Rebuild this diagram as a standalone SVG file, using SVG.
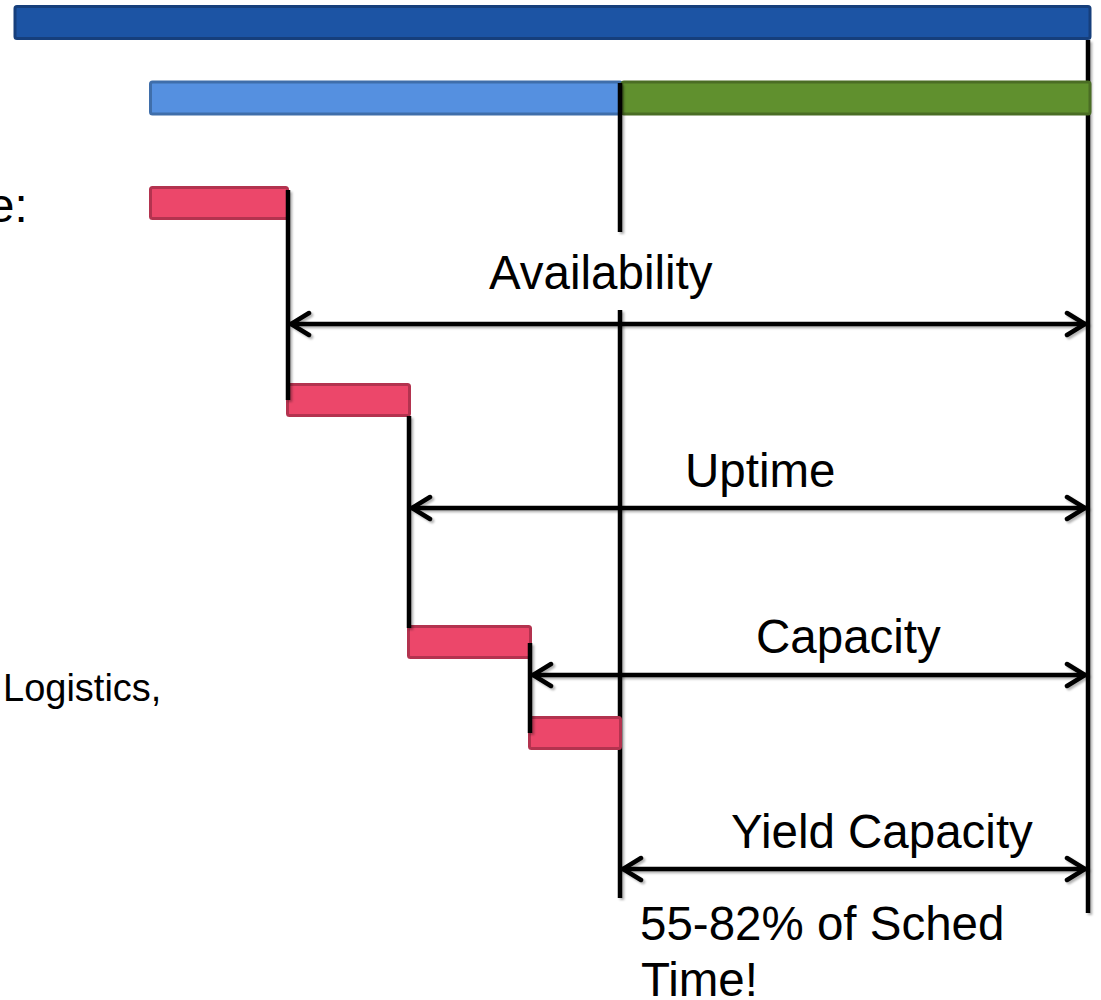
<svg xmlns="http://www.w3.org/2000/svg" width="1101" height="1000" viewBox="0 0 1101 1000">
  <style>
    .lbl { font-family: "Liberation Sans", Arial, sans-serif; font-size: 47.5px; fill: #000; }
    .small { font-size: 38px; }
    .bar { stroke-width: 3; }
    .total { fill: #1C54A4; stroke: #163F7C; }
    .sched { fill: #5590E0; stroke: #3F6EAA; }
    .loss { fill: #60902E; stroke: #4A6D24; }
    .down { fill: #EC476A; stroke: #B3334F; }
    .rule { stroke: #000; stroke-width: 4.5; fill: none; }
    .span { stroke: #000; stroke-width: 4.5; fill: none; marker-start: url(#chev); marker-end: url(#chev); }
  </style>
  <defs>
    <!-- soft drop shadow; user-space region so zero-width vertical lines still render -->
    <filter id="shadow" filterUnits="userSpaceOnUse" x="0" y="0" width="1101" height="1000">
      <feDropShadow dx="2" dy="2" stdDeviation="1.2" flood-color="#000" flood-opacity="0.3"/>
    </filter>
    <marker id="chev" markerUnits="userSpaceOnUse" viewBox="-26 -14 30 28" markerWidth="30" markerHeight="28" refX="0" refY="0" orient="auto-start-reverse">
      <path d="M-19,-11 L-1,0 L-19,11" fill="none" stroke="#000" stroke-width="4.5" stroke-linecap="round" stroke-linejoin="miter"/>
    </marker>
  </defs>

  <rect width="1101" height="1000" fill="#fff"/>

  <!-- right-hand boundary rule (sits behind the bars) -->
  <g id="rule-right" filter="url(#shadow)">
    <line class="rule" x1="1088" y1="40" x2="1088" y2="913"/>
  </g>

  <!-- time bars -->
  <g id="bar-total">
    <rect class="bar total" x="15" y="6.5" width="1075" height="32" rx="2"/>
  </g>
  <g id="bar-scheduled">
    <rect class="bar sched" x="150.5" y="82" width="471" height="32" rx="2"/>
  </g>
  <g id="bar-unscheduled">
    <rect class="bar loss" x="622" y="82" width="468" height="32" rx="2"/>
  </g>

  <!-- label box for Availability (white fill masks the rule) -->
  <g id="label-availability">
    <rect x="470" y="232" width="260" height="78" fill="#fff"/>
    <text class="lbl" x="489" y="289">Availability</text>
  </g>

  <!-- yield-capacity boundary rule -->
  <g id="rule-yield" filter="url(#shadow)">
    <line class="rule" x1="620" y1="83" x2="620" y2="232"/>
    <line class="rule" x1="620" y1="310" x2="620" y2="898"/>
  </g>

  <!-- loss steps -->
  <g id="loss-1">
    <rect class="bar down" x="150.5" y="187.5" width="137" height="31" rx="2"/>
  </g>
  <g id="loss-2">
    <rect class="bar down" x="287.5" y="384.5" width="122" height="31" rx="2"/>
  </g>
  <g id="loss-3">
    <rect class="bar down" x="408.5" y="626.5" width="122" height="31" rx="2"/>
  </g>
  <g id="loss-4">
    <rect class="bar down" x="529.5" y="717.5" width="91" height="31" rx="2"/>
  </g>

  <!-- step connectors and span arrows -->
  <g id="connectors" filter="url(#shadow)">
    <line class="rule" x1="288" y1="190" x2="288" y2="400"/>
    <line class="rule" x1="409" y1="416" x2="409" y2="628"/>
    <line class="rule" x1="530" y1="643" x2="530" y2="733"/>
    <line class="span" x1="290" y1="324" x2="1086" y2="324"/>
    <line class="span" x1="411" y1="508" x2="1086" y2="508"/>
    <line class="span" x1="532" y1="675" x2="1086" y2="675"/>
    <line class="span" x1="622" y1="869" x2="1086" y2="869"/>
  </g>

  <!-- span labels -->
  <g id="label-uptime"><text class="lbl" x="685" y="487">Uptime</text></g>
  <g id="label-capacity"><text class="lbl" x="756" y="653">Capacity</text></g>
  <g id="label-yield"><text class="lbl" x="731" y="848">Yield Capacity</text></g>
  <g id="label-share">
    <text class="lbl" x="640" y="940">55-82% of Sched</text>
    <text class="lbl" x="641" y="996">Time!</text>
  </g>

  <!-- left-edge text -->
  <g id="label-left">
    <text class="lbl" x="-12" y="222">e:</text>
    <text class="lbl small" x="3" y="701">Logistics,</text>
  </g>
</svg>
